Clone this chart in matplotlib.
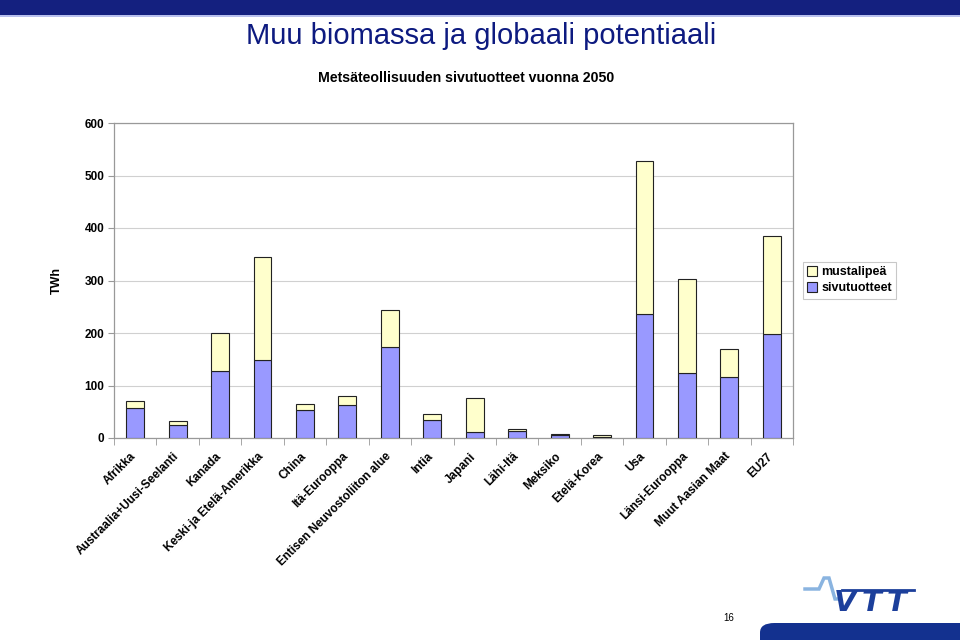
import matplotlib
matplotlib.use("Agg")
import matplotlib.pyplot as plt
import matplotlib.transforms as mtransforms
from matplotlib.patches import FancyBboxPatch, Rectangle
import numpy as np

plt.rcParams['font.family'] = ['Liberation Sans', 'DejaVu Sans']

categories = ["Afrikka", "Austraalia+Uusi-Seelanti", "Kanada", "Keski-ja Etelä-Amerikka",
              "China", "Itä-Eurooppa", "Entisen Neuvostoliiton alue", "Intia", "Japani",
              "Lähi-Itä", "Meksiko", "Etelä-Korea", "Usa", "Länsi-Eurooppa",
              "Muut Aasian Maat", "EU27"]
sivutuotteet = [57, 25, 128, 149, 53, 63, 173, 34, 11, 13, 6, 2, 236, 124, 116, 198]
mustalipea = [14, 7, 72, 196, 12, 17, 71, 12, 65, 4, 2, 4, 292, 179, 54, 187]
yticks = [0, 100, 200, 300, 400, 500, 600]

fig = plt.figure(figsize=(9.6, 6.4), dpi=100)
W, H = 960, 640

# header bar
fig.patches.append(Rectangle((0, 1 - 15 / H), 1, 15 / H, transform=fig.transFigure,
                             facecolor="#14207f", edgecolor="none", zorder=0))
fig.patches.append(Rectangle((0, 1 - 17 / H), 1, 2 / H, transform=fig.transFigure,
                             facecolor="#b8c0ee", edgecolor="none", zorder=0))

fig.text(481 / W, 1 - 36 / H, "Muu biomassa ja globaali potentiaali", ha="center", va="center",
         fontsize=21, color="#0d1a80")
fig.text(466 / W, 1 - 78 / H, "Metsäteollisuuden sivutuotteet vuonna 2050", ha="center",
         va="center", fontsize=10.2, fontweight="bold")

ax = fig.add_axes([114 / W, 1 - 438 / H, (793 - 114) / W, (438 - 123) / H])
x = np.arange(len(categories))
bw = 0.42
ax.bar(x, sivutuotteet, bw, color="#9999ff", edgecolor="#222222", linewidth=0.8,
       label="sivutuotteet", zorder=3)
ax.bar(x, mustalipea, bw, bottom=sivutuotteet, color="#ffffcc", edgecolor="#222222",
       linewidth=0.8, label="mustalipeä", zorder=3)

ax.set_xlim(-0.5, len(categories) - 0.5)
ax.set_ylim(0, 600)
ax.set_yticks(yticks)
ax.set_yticklabels([str(v) for v in yticks], fontsize=8.5, fontweight="bold")
ax.yaxis.grid(True, color="#d0d0d0", linewidth=0.8, zorder=0)
ax.set_axisbelow(True)
for s in ax.spines.values():
    s.set_color("#999999")
    s.set_linewidth(0.9)
ax.tick_params(axis="y", length=4, color="#999999", pad=3)
ax.set_xticks(x)
ax.set_xticklabels(categories, rotation=45, ha="right", rotation_mode="anchor",
                   fontsize=8.5, fontweight="bold")
ax.tick_params(axis="x", which="major", length=0, pad=9)
offset = mtransforms.ScaledTranslation(-5 / 100, 0, fig.dpi_scale_trans)
for lbl in ax.get_xticklabels():
    lbl.set_transform(lbl.get_transform() + offset)
ax.set_xticks(np.arange(-0.5, len(categories)), minor=True)
ax.tick_params(axis="x", which="minor", length=5, color="#999999")
ax.set_ylabel("TWh", fontsize=9, fontweight="bold")
ax.yaxis.set_label_coords((63 - 114) / (793 - 114), (438 - 280) / (438 - 123))

handles, labels = ax.get_legend_handles_labels()
leg = fig.legend(handles[::-1], labels[::-1], loc="upper left",
                 bbox_to_anchor=(803 / W, 1 - 262 / H), frameon=True,
                 prop={"weight": "bold", "size": 9},
                 fancybox=False, edgecolor="#bbbbbb", handlelength=0.8, handleheight=0.8,
                 handletextpad=0.3, borderpad=0.35, labelspacing=0.3, borderaxespad=0)
leg.get_frame().set_linewidth(0.8)

# page number
fig.text(729 / W, 1 - 618 / H, "16", ha="center", va="center", fontsize=7)

# bottom bar
fig.patches.append(FancyBboxPatch((760 / W, -0.02), 0.3, 0.02 + 17 / H,
                                  boxstyle="round,pad=0,rounding_size=0.015",
                                  transform=fig.transFigure, facecolor="#13318f",
                                  edgecolor="none"))

# VTT logo
wx = np.array([805, 819, 824, 829, 835, 838]) / W
wy = 1 - np.array([589, 589, 578, 578, 599, 599]) / H
fig.lines.append(plt.Line2D(wx, wy, transform=fig.transFigure, color="#8ab4e0",
                            linewidth=2.5, solid_joinstyle="miter"))
fig.lines.append(plt.Line2D(np.array([842, 914]) / W, 1 - np.array([589.5, 589.5]) / H,
                            transform=fig.transFigure, color="#1c3f9b", linewidth=2))
for ch, lx in zip("VTT", [834, 862, 887]):
    fig.text(lx / W, 1 - 589 / H, ch, ha="left", va="top", fontsize=21,
             fontweight="heavy", style="italic", color="#1c3f9b", family="DejaVu Sans")

fig.savefig("out.png", dpi=100)
